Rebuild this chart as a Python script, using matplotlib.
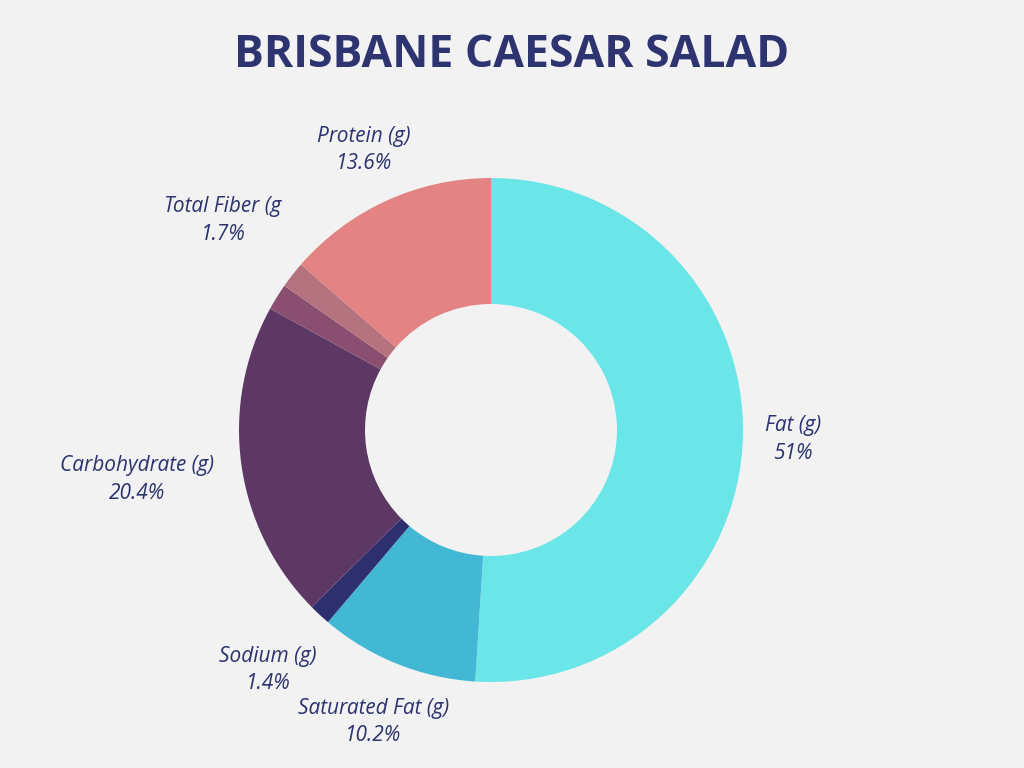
import matplotlib

matplotlib.use("Agg")
import matplotlib.pyplot as plt

labels = ["Fat (g)", "Saturated Fat (g)", "Sodium (g)", "Carbohydrate (g)", "", "Total Fiber (g", "Protein (g)"]
values = [51.0, 10.2, 1.4, 20.4, 1.7, 1.7, 13.6]
colors = ["#6ae6e8", "#42b8d4", "#2e2f6e", "#5e3864", "#8a4f70", "#b5737f", "#e38383"]

fig = plt.figure(figsize=(10.24, 7.68), dpi=100, facecolor="#f2f2f2")
ax = fig.add_axes([(491 - 252) / 1024, (338 - 252) / 768, 504 / 1024, 504 / 768])
ax.set_facecolor("#f2f2f2")

wedges, texts = ax.pie(
    values, colors=colors, startangle=90, counterclock=False,
    wedgeprops=dict(width=0.5, edgecolor="none"),
)

# labels placed at the wedge mid-angle, pushed out a bit per slice
dists = [1.2, 1.25, 1.3, 1.42, 0, 1.35, 1.22]
import numpy as np
for w, lab, v, d in zip(wedges, labels, values, dists):
    if not lab:
        continue
    ang = np.deg2rad((w.theta1 + w.theta2) / 2)
    pct = f"{v:g}%"
    ax.text(d * np.cos(ang), d * np.sin(ang), f"{lab}\n{pct}", ha="center", va="center",
            fontsize=15, style="italic", color="#2e3470", family="Open Sans", linespacing=1.4)

ax.set_xlim(-1, 1)
ax.set_ylim(-1, 1)
ax.set_aspect("equal")
ax.axis("off")

fig.text(0.5, 0.928, "BRISBANE CAESAR SALAD", ha="center", va="center", fontsize=32,
         fontweight="bold", color="#2e3470", family="Open Sans")

fig.savefig("out.png", dpi=100, facecolor=fig.get_facecolor())
